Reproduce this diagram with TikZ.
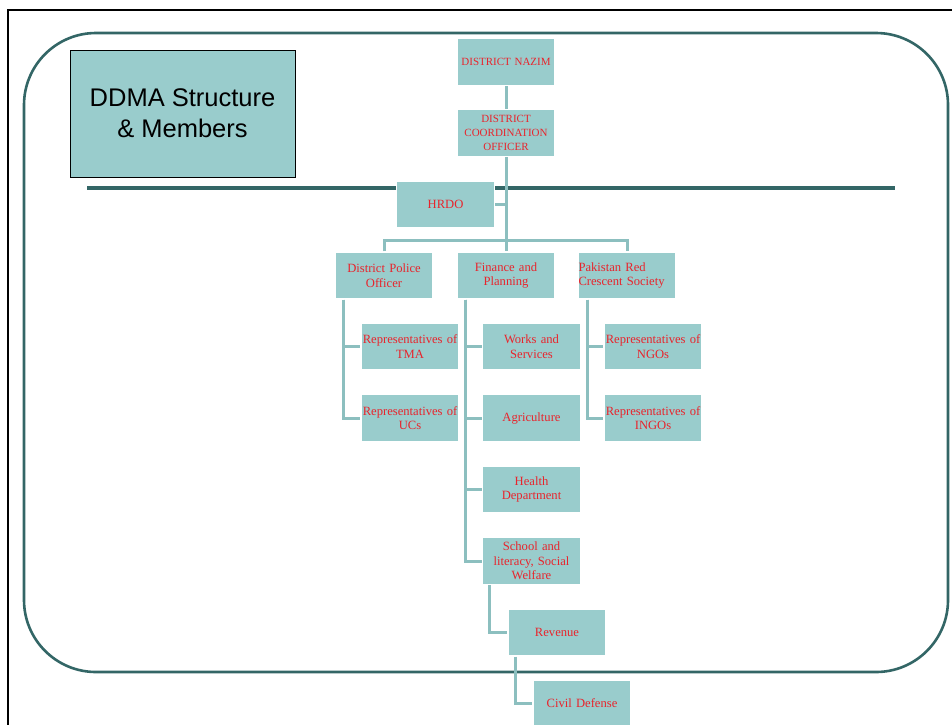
\documentclass[tikz,border=0pt]{standalone}
\usepackage{fontspec}
\setmainfont{Liberation Serif}
\newfontfamily\titlefont{Liberation Sans}
\usepackage{tikz}
\usetikzlibrary{calc}
\usetikzlibrary{positioning}
\usepackage{color}
\definecolor{slateteal}{RGB}{51, 102, 102}
\definecolor{boxteal}{RGB}{153, 204, 204}
\definecolor{linkteal}{RGB}{140, 191, 191}
\definecolor{boxred}{RGB}{232, 36, 44}

\begin{document}
\begin{tikzpicture}[x=1pt, y=-1pt,
        member/.style={rectangle, fill=boxteal, draw=white, line width=1.2pt,
            minimum width=98pt, minimum height=47pt, text width=97pt, inner sep=0.5pt,
            align=center, text=boxred, font=\fontsize{12.6}{14.5}\selectfont},
        capsbox/.style={member, font=\fontsize{11}{13.8}\selectfont},
        link/.style={draw=linkteal, line width=3pt},
        titlebox/.style={rectangle, fill=boxteal, draw=black, line width=0.8pt,
            minimum width=225pt, minimum height=127pt, align=center,
            font=\titlefont\fontsize{25.5}{31}\selectfont}]
            \useasboundingbox                                             (0, 0) rectangle (952, 724);
            % page frame and slide border
            \draw[black, line width=1.6pt]                                (8, 740) -- (8, 10) -- (970, 10);
            \draw[slateteal, line width=2.6pt, rounded corners=72pt]      (24, 33) rectangle (948, 672);
            \draw[slateteal, line width=4pt]                              (87, 188) -- (895, 188);
            \node[titlebox] (title) at (182.5, 113.5) {DDMA Structure\\\& Members};
            % chain of command
            \node[capsbox] (nazim) at (506, 62)    {DISTRICT NAZIM};
            \node[capsbox] (dco)   at (506, 133)   {DISTRICT\\COORDINATION\\OFFICER};
            \node[member]  (hrdo)  at (445.5, 204.5) {HRDO};
            \node[member]  (dpo)   at (384, 275.5) {District Police\\Officer};
            \node[member]  (fin)   at (506, 275.5) {Finance and\\Planning};
            \node[member, align=left] (prcs) at (627, 275.5) {Pakistan Red\\Crescent Society};
            \coordinate (bar) at (506, 240);
            % members
            \node[member] (tma)    at (410, 346.5) {Representatives of\\TMA};
            \node[member] (ucs)    at (410, 418)   {Representatives of\\UCs};
            \node[member] (works)  at (531.5, 346.5) {Works and\\Services};
            \node[member] (agri)   at (531.5, 418)   {Agriculture};
            \node[member] (health) at (531.5, 489.5) {Health\\Department};
            \node[member] (school) at (531.5, 561)   {School and\\literacy, Social\\Welfare};
            \node[member] (rev)    at (557, 632.5)   {Revenue};
            \node[member] (civil)  at (582, 703.5)   {Civil Defense};
            \node[member] (ngos)   at (653, 346.5)   {Representatives of\\NGOs};
            \node[member] (ingos)  at (653, 418)     {Representatives of\\INGOs};
            % connectors
            \draw[link] (nazim) -- (dco);
            \draw[link] (dco) -- (fin);
            \draw[link] (hrdo.east) -- (hrdo.east -| dco.south);
            \draw[link] (dpo.north) -- (dpo.north |- bar) -- (prcs.north |- bar) -- (prcs.north);
            \draw[link] ([xshift=9pt]dpo.south west) |- (tma.west);
            \draw[link] ([xshift=9pt]dpo.south west) |- (ucs.west);
            \draw[link] ([xshift=9pt]fin.south west) |- (works.west);
            \draw[link] ([xshift=9pt]fin.south west) |- (agri.west);
            \draw[link] ([xshift=9pt]fin.south west) |- (health.west);
            \draw[link] ([xshift=9pt]fin.south west) |- (school.west);
            \draw[link] ([xshift=8pt]school.south west) |- (rev.west);
            \draw[link] ([xshift=8pt]rev.south west) |- (civil.west);
            \draw[link] ([xshift=10pt]prcs.south west) |- (ngos.west);
            \draw[link] ([xshift=10pt]prcs.south west) |- (ingos.west);
        \end{tikzpicture}
\end{document}
